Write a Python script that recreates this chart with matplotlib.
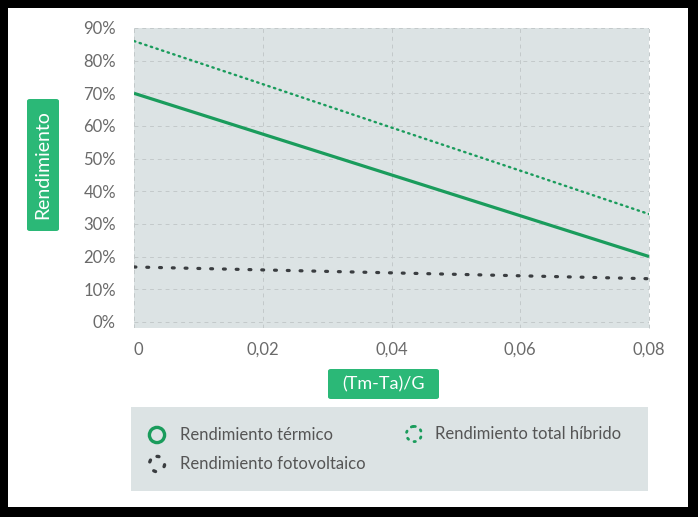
import numpy as np
import matplotlib
matplotlib.use("Agg")
import matplotlib.pyplot as plt
from matplotlib.patches import Rectangle, FancyBboxPatch, Circle

plt.rcParams['font.family'] = ['Lato', 'DejaVu Sans']

# data
x_vals = [0, 0.02, 0.04, 0.06, 0.08]
termico = [0.70, 0.575, 0.45, 0.325, 0.20]
hibrido = [0.86, 0.728, 0.595, 0.463, 0.33]
fotovoltaico = [0.168, 0.159, 0.150, 0.141, 0.132]

x_ticks = [0, 0.02, 0.04, 0.06, 0.08]
x_ticklabels = ["0", "0,02", "0,04", "0,06", "0,08"]
y_ticks = [0, 0.1, 0.2, 0.3, 0.4, 0.5, 0.6, 0.7, 0.8, 0.9]
y_ticklabels = ["0%", "10%", "20%", "30%", "40%", "50%", "60%", "70%", "80%", "90%"]

legend_labels = ["Rendimiento térmico", "Rendimiento total híbrido", "Rendimiento fotovoltaico"]

GREEN = "#1a9c5c"
BOX_GREEN = "#2bb877"
DARK = "#3a3d40"
BG = "#dce3e4"
TXT = "#6a6a6a"
GRID = "#c3c9ca"

W, H = 698, 517
fig = plt.figure(figsize=(W / 100, H / 100), dpi=100, facecolor="black")

def fx(px):
    return px / W

def fy(py):
    return 1 - py / H

# white inner panel
fig.patches.append(Rectangle((fx(8), fy(507)), fx(688) - fx(8), fy(8) - fy(507),
                             transform=fig.transFigure, facecolor="white", edgecolor="none", zorder=-10))

# main axes
left, right, top, bottom = 134, 649, 28, 327.7
ax = fig.add_axes([fx(left), fy(bottom), fx(right) - fx(left), fy(top) - fy(bottom)])
ax.set_zorder(2)
ax.set_facecolor(BG)
ax.plot(x_vals, termico, color=GREEN, lw=2.3, solid_capstyle="butt", zorder=3)
ax.plot(x_vals, hibrido, color=GREEN, lw=1.7, linestyle=(0, (0.6, 1.9)),
        dash_capstyle="round", zorder=3)
ax.plot(x_vals, fotovoltaico, color=DARK, lw=2.3, linestyle=(0, (0.6, 3.4)),
        dash_capstyle="round", zorder=3)

ax.set_xlim(0, 0.08)
ax.set_ylim(-0.018, 0.9)
ax.set_xticks(x_ticks)
ax.set_xticklabels(x_ticklabels)
ax.set_yticks(y_ticks)
ax.set_yticklabels(y_ticklabels)
ax.tick_params(axis="both", length=0, colors=TXT, labelsize=12)
ax.tick_params(axis="y", pad=13)
ax.tick_params(axis="x", pad=10)
ax.get_xticklabels()[0].set_ha("left")
ax.grid(True, color=GRID, linestyle=(0, (4, 4)), lw=0.7)
for s in ax.spines.values():
    s.set_visible(False)
ax.axvline(0, color=GRID, linestyle=(0, (4, 4)), lw=0.7)
ax.axvline(0.08, color=GRID, linestyle=(0, (4, 4)), lw=0.7, clip_on=False)

# green label boxes
def label_box(x0, y0, x1, y1, text, rot=0, size=13):
    fig.patches.append(FancyBboxPatch((fx(x0), fy(y1)), fx(x1) - fx(x0), fy(y0) - fy(y1),
                                      boxstyle="round,pad=0,rounding_size=0.004",
                                      transform=fig.transFigure, facecolor=BOX_GREEN,
                                      edgecolor="none", zorder=1))
    fig.text(fx((x0 + x1) / 2), fy((y0 + y1) / 2), text, color="white", fontsize=size,
             rotation=rot, ha="center", va="center", zorder=2)

label_box(27, 99, 59, 231, "Rendimiento", rot=90, size=14)
label_box(328, 369, 439, 399, "(Tm-Ta)/G", size=13)

# legend panel
lx0, lx1, ly0, ly1 = 131, 648, 407, 491
lax = fig.add_axes([fx(lx0), fy(ly1), fx(lx1) - fx(lx0), fy(ly0) - fy(ly1)])
lax.set_zorder(2)
lax.set_facecolor(BG)
lax.set_xlim(lx0, lx1)
lax.set_ylim(ly1, ly0)
lax.set_xticks([])
lax.set_yticks([])
for s in lax.spines.values():
    s.set_visible(False)

items = [
    (157, 435, 180, dict(edgecolor=GREEN, lw=2.4, linestyle="-")),
    (414, 434, 435, dict(edgecolor=GREEN, lw=2.0, linestyle=(0, (0.5, 2.2)))),
    (157, 464, 180, dict(edgecolor=DARK, lw=2.4, linestyle=(0, (0.6, 3.2)))),
]
for (cx, cy, tx, style), lab in zip(items, legend_labels):
    c = Circle((cx, cy), 7.6, facecolor="none", capstyle="round", **style)
    lax.add_patch(c)
    lax.text(tx, cy, lab, color="#555555", fontsize=12, va="center", ha="left")

fig.savefig("out.png", dpi=100, facecolor="black")
